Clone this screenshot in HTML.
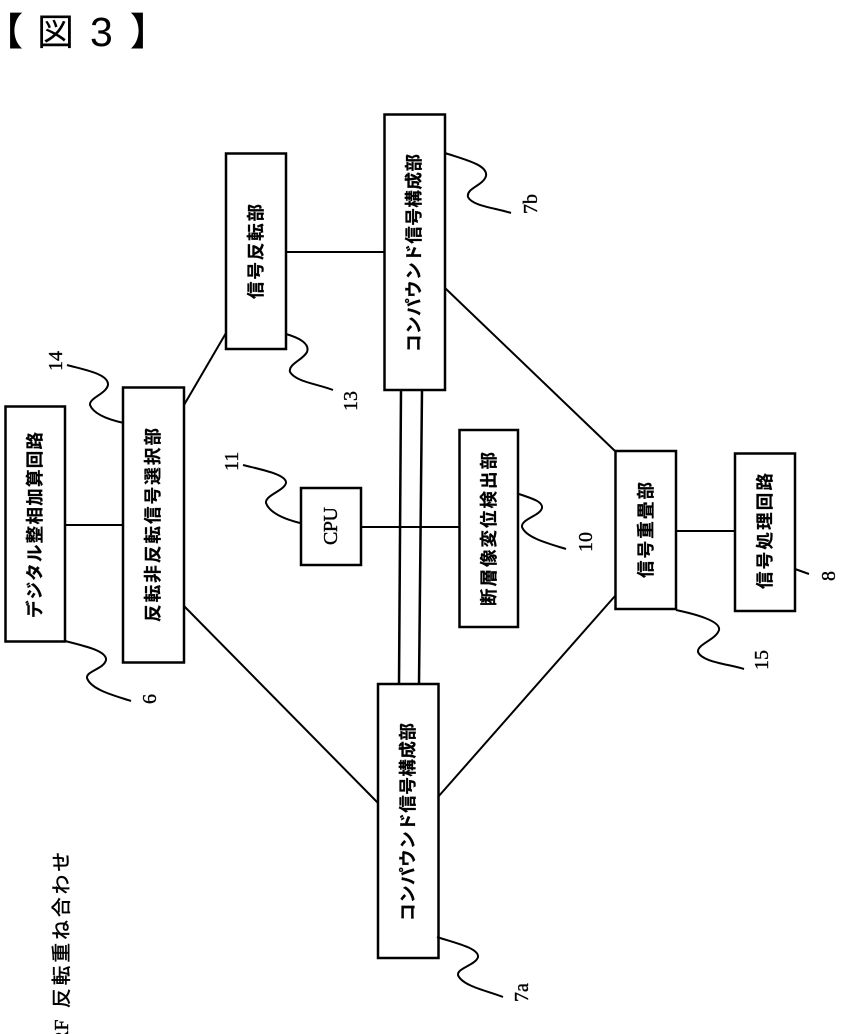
<!DOCTYPE html>
<html><head><meta charset="utf-8"><style>
html,body{margin:0;padding:0;background:#fff;width:843px;height:1034px;overflow:hidden}
svg{display:block}
text{font-family:"Liberation Sans","Noto Sans CJK JP",sans-serif;fill:#000}
.b{font-weight:700;font-size:17.500px;stroke:#000;stroke-width:.25}
.n{font-family:"Liberation Serif",serif;font-size:20px;stroke:#000;stroke-width:.35}
rect{fill:#fff;stroke:#000;stroke-width:2.5}
.l{stroke:#000;stroke-width:2;fill:none}
.w{stroke:#000;stroke-width:2;fill:none}
</style></head><body>
<svg width="843" height="1034" viewBox="0 0 843 1034" xmlns="http://www.w3.org/2000/svg">
<text x="-15" y="45" font-size="38" font-weight="700">【</text>
<text x="37" y="45" font-size="37">図</text>
<text x="90" y="46" font-size="41">3</text>
<text x="130" y="45" font-size="38" font-weight="700">】</text>

<!-- connectors -->
<path class="l" d="M65 525H123M184 405L226 333M184 606L378 803M286 252H384M445 288L615 451M438 797L615 596M361 527H459M676 531H735"/>
<path class="l" d="M401 390L399 684M422 390L419 684" style="stroke-width:2.500"/>

<!-- boxes -->
<rect x="5.500" y="406.500" width="59.500" height="235"/>
<rect x="123" y="387.500" width="61" height="275"/>
<rect x="226" y="153.500" width="60" height="195.500"/>
<rect x="384.500" y="114.500" width="60.500" height="275.500"/>
<rect x="301" y="488" width="60" height="77"/>
<rect x="459.500" y="430" width="58.500" height="197"/>
<rect x="615.500" y="451" width="60.500" height="158"/>
<rect x="735" y="453.500" width="60" height="157.500"/>
<rect x="378" y="684" width="60.500" height="274"/>

<!-- box labels -->
<text class="b" transform="translate(41,618) rotate(-90)" textLength="186">デジタル整相加算回路</text>
<text class="b" transform="translate(159,622) rotate(-90)" textLength="194">反転非反転信号選択部</text>
<text class="b" transform="translate(262,299) rotate(-90)" textLength="95">信号反転部</text>
<text class="b" transform="translate(420,352) rotate(-90)" textLength="198">コンパウンド信号構成部</text>
<text transform="translate(337,545) rotate(-90)" font-size="20" style='font-family:"Liberation Serif",serif;stroke:#000;stroke-width:.4' textLength="38">CPU</text>
<text class="b" transform="translate(495,606) rotate(-90)" textLength="154">断層像変位検出部</text>
<text class="b" transform="translate(652,578) rotate(-90)" textLength="96">信号重畳部</text>
<text class="b" transform="translate(771,589) rotate(-90)" textLength="116">信号処理回路</text>
<text class="b" transform="translate(414,921) rotate(-90)" textLength="198">コンパウンド信号構成部</text>

<!-- squiggle leaders -->
<path class="w" d="M445 153C466 160 488 165 486 176C483 186 466 188 468 197C472 206 496 208 511 213"/>
<path class="w" d="M286 334C300 338 310 344 307 352C303 360 288 364 290 372C296 382 318 384 333 390"/>
<path class="w" d="M67 365C85 370 109 374 108 385C106 394 89 398 90 405C94 415 110 420 124 423"/>
<path class="w" d="M243 465C258 469 287 474 286 483C284 491 265 495 266 503C270 514 288 520 300 523"/>
<path class="w" d="M519 494C530 498 543 501 542 508C540 516 521 519 522 527C526 538 550 544 566 549"/>
<path class="w" d="M65 641C85 646 107 651 106 660C104 669 86 671 87 678C91 690 116 696 131 701"/>
<path class="w" d="M676 610C695 614 721 621 719 630C716 640 697 644 698 652C702 662 728 664 744 669"/>
<path class="w" d="M795 569L809 574"/>
<path class="w" d="M437 937C455 943 479 948 478 957C476 965 457 968 458 975C462 986 488 991 503 997"/>

<!-- numbers -->
<text class="n" transform="translate(62,371) rotate(-90)">14</text>
<text class="n" transform="translate(238,471) rotate(-90)">11</text>
<text class="n" transform="translate(537,214) rotate(-90)">7b</text>
<text class="n" transform="translate(357,411) rotate(-90)">13</text>
<text class="n" transform="translate(592,552) rotate(-90)">10</text>
<text class="n" transform="translate(156,704) rotate(-90)">6</text>
<text class="n" transform="translate(768,670) rotate(-90)">15</text>
<text class="n" transform="translate(835,581) rotate(-90)">8</text>
<text class="n" transform="translate(528,1002) rotate(-90)">7a</text>

<text transform="translate(68,1008) rotate(-90)" font-size="19.500" textLength="156" style="stroke:#000;stroke-width:.5">反転重ね合わせ</text>
<text transform="translate(68,1044) rotate(-90)" font-size="20" style='font-family:"Liberation Serif",serif;stroke:#000;stroke-width:.4'>RF</text>
</svg>
</body></html>
